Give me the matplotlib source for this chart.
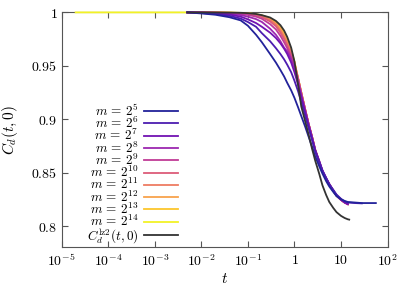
import numpy as np
import matplotlib
matplotlib.use("Agg")
import matplotlib.pyplot as plt

plt.rcParams['mathtext.fontset'] = 'cm'
plt.rcParams['font.family'] = 'serif'
plt.rcParams['font.serif'] = ['DejaVu Serif']

# common time grid (transition region)
t_grid = [0.01, 0.02, 0.04, 0.07, 0.1, 0.15, 0.2, 0.3, 0.4, 0.5, 0.6, 0.7, 0.85,
          1.0, 1.2, 1.4, 1.7, 2.0, 2.4, 2.8, 3.4, 4.0, 4.8, 5.6, 6.8, 8.0, 10, 12, 14]

# curves for m = 2^5 ... 2^14 on t_grid
y_m5 = [0.9990, 0.9978, 0.9955, 0.9925, 0.9875, 0.979, 0.972, 0.961, 0.953, 0.946, 0.940, 0.934, 0.927,
        0.920, 0.911, 0.903, 0.893, 0.884, 0.874, 0.865, 0.856, 0.849, 0.842, 0.837, 0.832, 0.828, 0.825, 0.8235, 0.8225]
y_m6 = [0.9994, 0.9985, 0.9968, 0.9942, 0.991, 0.9865, 0.9805, 0.973, 0.9665, 0.961, 0.956, 0.951, 0.944,
        0.936, 0.926, 0.916, 0.903, 0.892, 0.880, 0.870, 0.860, 0.852, 0.845, 0.839, 0.834, 0.8295, 0.8255, 0.823, 0.822]
y_m7 = [0.9997, 0.9992, 0.998, 0.996, 0.9935, 0.990, 0.9865, 0.981, 0.976, 0.971, 0.966, 0.961, 0.953,
        0.944, 0.932, 0.921, 0.907, 0.895, 0.882, 0.871, 0.861, 0.852, 0.845, 0.8395, 0.8335, 0.829, 0.8248, 0.822, 0.8205]
y_m8 = [0.9998, 0.9995, 0.9988, 0.9975, 0.996, 0.9937, 0.991, 0.9847, 0.979, 0.973, 0.967, 0.9635, 0.956,
        0.948, 0.935, 0.923, 0.908, 0.896, 0.883, 0.871, 0.861, 0.8515, 0.8445, 0.839, 0.833, 0.8285, 0.8245, 0.822, 0.8205]
y_m9 = [0.9999, 0.9997, 0.9993, 0.9985, 0.9977, 0.996, 0.994, 0.989, 0.984, 0.978, 0.972, 0.9665, 0.958,
        0.950, 0.937, 0.924, 0.909, 0.896, 0.883, 0.871, 0.860, 0.851, 0.844, 0.839, 0.833, 0.8285, 0.8245, 0.822, 0.8205]
y_m10 = [1.0, 0.9998, 0.9995, 0.999, 0.9985, 0.9972, 0.9955, 0.9915, 0.987, 0.981, 0.975, 0.969, 0.960,
         0.951, 0.938, 0.925, 0.909, 0.896, 0.883, 0.871, 0.860, 0.851, 0.844, 0.839, 0.833, 0.8285, 0.8245, 0.822, 0.8205]
y_m11 = [1.0, 0.9999, 0.9996, 0.9993, 0.9989, 0.9978, 0.9963, 0.9928, 0.9885, 0.983, 0.977, 0.971, 0.962,
         0.952, 0.938, 0.925, 0.909, 0.896, 0.883, 0.871, 0.860, 0.851, 0.844, 0.839, 0.833, 0.8285, 0.8245, 0.822, 0.8205]
y_m12 = [1.0, 0.9999, 0.9997, 0.9994, 0.999, 0.998, 0.9967, 0.9937, 0.9898, 0.985, 0.979, 0.973, 0.963,
         0.953, 0.938, 0.925, 0.909, 0.896, 0.883, 0.871, 0.860, 0.851, 0.844, 0.839, 0.833, 0.8285, 0.8245, 0.822, 0.8205]
y_m13 = [1.0, 0.9999, 0.9997, 0.9995, 0.9991, 0.9982, 0.997, 0.9942, 0.9905, 0.986, 0.980, 0.974, 0.964,
         0.9535, 0.938, 0.925, 0.909, 0.896, 0.883, 0.871, 0.860, 0.851, 0.844, 0.839, 0.833, 0.8285, 0.8245, 0.822, 0.8205]
y_m14 = [1.0, 0.9999, 0.9998, 0.9995, 0.9992, 0.9983, 0.9972, 0.9946, 0.991, 0.9865, 0.9808, 0.9745, 0.9645,
         0.954, 0.938, 0.925, 0.909, 0.896, 0.883, 0.871, 0.860, 0.851, 0.844, 0.839, 0.833, 0.8285, 0.8245, 0.822, 0.8205]

# where each m curve starts (flat part, C=1); only m=2^14 reaches t~2e-5
t_start = [0.005, 0.005, 0.005, 0.005, 0.005, 0.005, 0.005, 0.005, 0.005, 0.00002]

# longer runs for the small m
t_tail_m5 = [20, 28, 40, 56]
y_tail_m5 = [0.822, 0.8215, 0.8215, 0.8215]
t_tail_m6 = [20, 28]
y_tail_m6 = [0.8215, 0.8212]

# reference curve C_d^lz2
t_lz2 = [0.005, 0.01, 0.02, 0.04, 0.07, 0.1, 0.15, 0.2, 0.3, 0.4, 0.5, 0.6, 0.7, 0.85,
         1.0, 1.2, 1.4, 1.7, 2.0, 2.4, 2.8, 3.4, 4.0, 4.8, 5.6, 6.8, 8.0, 10, 12, 14, 15]
y_lz2 = [1.0, 1.0, 0.9999, 0.9998, 0.9996, 0.9993, 0.9985, 0.9974, 0.9952, 0.992, 0.988, 0.983, 0.977, 0.967,
         0.954, 0.932, 0.912, 0.898, 0.886, 0.872, 0.861, 0.849, 0.838, 0.829, 0.8225, 0.817, 0.813, 0.8095, 0.8075, 0.8063, 0.806]

exps = [5, 6, 7, 8, 9, 10, 11, 12, 13, 14]
colors = ['#22229a', '#4c1cb0', '#7212b2', '#9c28b0', '#c03c96', '#dc5c78', '#ee7c62', '#f8a24c', '#fcc62c', '#f2f226']

series = [y_m5, y_m6, y_m7, y_m8, y_m9, y_m10, y_m11, y_m12, y_m13, y_m14]

fig = plt.figure(figsize=(4.11, 2.88), dpi=100)
ax = fig.add_axes([0.150, 0.141, 0.793, 0.816])

handles = [None] * len(exps)
# large m first so that the small m lie on top
for i in reversed(range(len(exps))):
    tt = [t_start[i]] + t_grid
    yy = [1.0] + series[i]
    if exps[i] == 5:
        tt = tt + t_tail_m5
        yy = yy + y_tail_m5
    if exps[i] == 6:
        tt = tt + t_tail_m6
        yy = yy + y_tail_m6
    line, = ax.plot(tt, yy, color=colors[i], lw=1.3, label=r'$m\,=\,2^{%d}$' % exps[i],
                    clip_on=False, zorder=3)
    handles[i] = line

line, = ax.plot(t_lz2, y_lz2, color='#333333', lw=1.3, label=r'$C_d^{\rm lz2}(t,0)$',
                clip_on=False, zorder=3)
handles.append(line)

ax.set_xscale('log')
ax.set_xlim(1e-5, 1e2)
ax.set_ylim(0.78, 1.0)

xt = [1e-5, 1e-4, 1e-3, 1e-2, 1e-1, 1, 10, 100]
xl = [r'$10^{-5}$', r'$10^{-4}$', r'$10^{-3}$', r'$10^{-2}$', r'$10^{-1}$', r'$1$', r'$10$', r'$10^{2}$']
ax.set_xticks(xt)
ax.set_xticklabels(xl)
yt = [0.8, 0.85, 0.9, 0.95, 1.0]
ax.set_yticks(yt)
ax.set_yticklabels([r'$0.8$', r'$0.85$', r'$0.9$', r'$0.95$', r'$1$'])

ax.tick_params(which='both', direction='in', top=True, right=True, labelsize=10, color='#555555')
ax.tick_params(which='major', length=4, pad=4)
ax.tick_params(axis='y', pad=3)
ax.tick_params(which='minor', length=2)
ax.minorticks_on()
ax.yaxis.set_minor_locator(matplotlib.ticker.NullLocator())
for s in ax.spines.values():
    s.set_color('#555555')
    s.set_linewidth(0.8)

ax.set_xlabel(r'$t$', fontsize=11, labelpad=2)
ax.set_ylabel(r'$C_d(t,0)$', fontsize=11, labelpad=8)

ax.legend(handles=handles, loc='lower right', bbox_to_anchor=(0.385, -0.03), frameon=False, markerfirst=False,
          fontsize=9.5, handlelength=2.6, labelspacing=-0.23, handletextpad=0.4, borderpad=0.2)

plt.savefig('out.png', dpi=100)
